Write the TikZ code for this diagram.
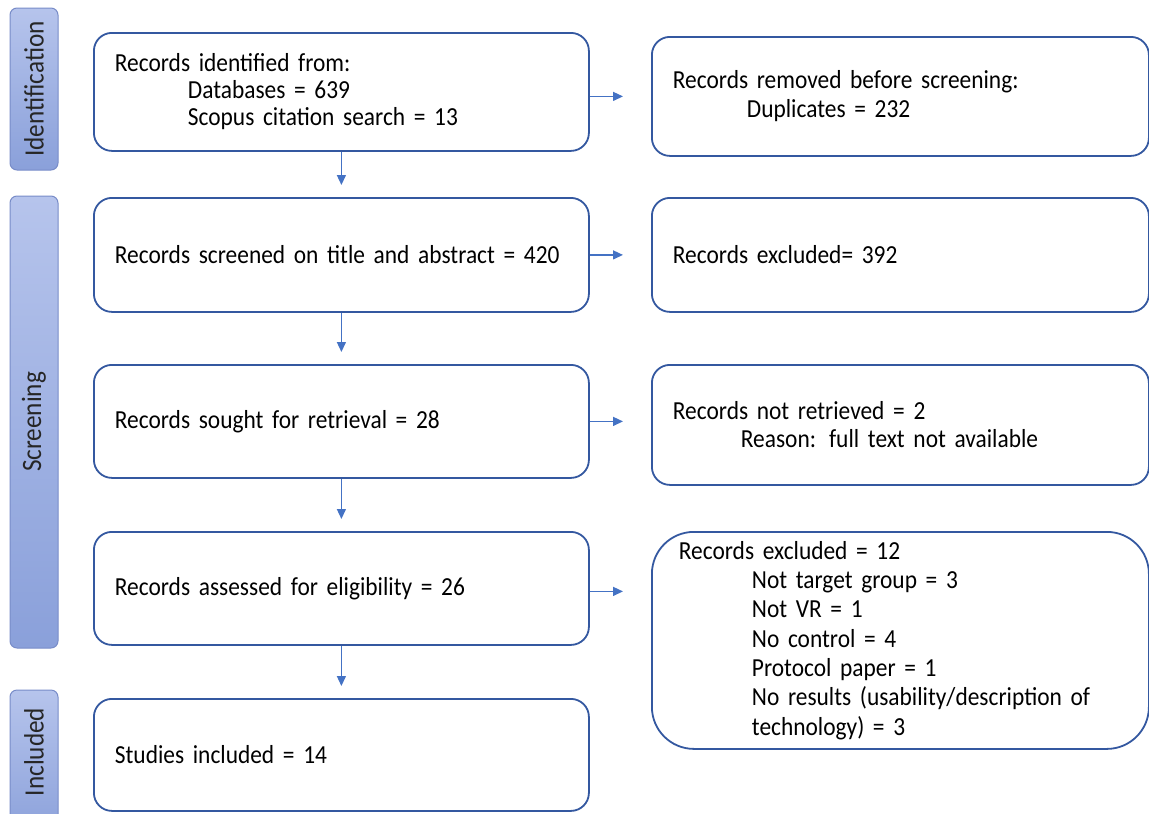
\documentclass[tikz,border=0pt]{standalone}
\usepackage{fontspec}
\setmainfont{Carlito}[FakeStretch=0.9]
\usetikzlibrary{arrows.meta,calc}
\definecolor{boxline}{RGB}{52,88,160}
\definecolor{arrowc}{RGB}{68,114,196}
\definecolor{sidetop}{RGB}{182,196,236}
\definecolor{sidebot}{RGB}{138,160,218}
\definecolor{sideline}{RGB}{120,140,200}
\tikzset{
  box/.style={draw=boxline, line width=1.8pt, rounded corners=18pt, anchor=north west,
    inner xsep=21pt, inner ysep=0pt, align=left, font=\fontsize{26}{27}\selectfont, text=black},
  side/.style={draw=sideline, line width=1pt, rounded corners=7pt, top color=sidetop, bottom color=sidebot,
    minimum width=48pt, inner sep=0pt, text=black!90},
  sidetext/.style={rotate=90, font=\fontsize{28}{30}\selectfont, text=black!85, inner sep=0pt},
  arr/.style={draw=arrowc, line width=1.4pt, -{Triangle[length=10pt,width=9pt]}}
}
\newcommand{\ind}{\hspace*{73pt}}
\begin{document}
\begin{tikzpicture}[x=1pt,y=-1pt]
\useasboundingbox (0,0) rectangle (1149,814);
\clip (0,0) rectangle (1149,814);
% sidebars
\node[side, minimum height=162pt] (sid) at (34,89) {};
\node[sidetext] (tid) at (sid.center) {Identification};
\node[side, minimum height=452pt] (ssc) at (34,422) {};
\node[sidetext] (tsc) at (ssc.center) {Screening};
\node[side, minimum height=150pt] (sin) at (34,765) {};
\node[sidetext] (tin) at (34,752) {Included};
% left column
\node[box, minimum width=495pt, minimum height=118pt, text width=453pt] (b1) at (93,32)
  {Records identified from:\\\ind Databases = 639\\\ind Scopus citation search = 13};
\node[box, minimum width=495pt, minimum height=114pt, text width=453pt] (b2) at (93,197)
  {Records screened on title and abstract = 420};
\node[box, minimum width=495pt, minimum height=113pt, text width=453pt] (b3) at (93,364)
  {Records sought for retrieval = 28};
\node[box, minimum width=495pt, minimum height=113pt, text width=453pt] (b4) at (93,531)
  {Records assessed for eligibility = 26};
\node[box, minimum width=495pt, minimum height=112pt, text width=453pt] (b5) at (93,698)
  {Studies included = 14};
% right column
\node[box, minimum width=497pt, minimum height=119pt, text width=455pt, font=\fontsize{26}{29}\selectfont] (r1) at (651,36)
  {Records removed before screening:\\\hspace*{74pt}Duplicates = 232};
\node[box, minimum width=497pt, minimum height=114pt, text width=455pt] (r2) at (651,197)
  {Records excluded= 392};
\node[box, minimum width=497pt, minimum height=120pt, text width=455pt, font=\fontsize{26}{28}\selectfont] (r3) at (651,364)
  {Records not retrieved = 2\\\hspace*{68pt}Reason: full text not available};
\node[box, rounded corners=42pt, inner xsep=27pt, minimum width=497pt, minimum height=217pt, text width=443pt,
  font=\fontsize{26}{29.3}\selectfont] (r4) at (651,531)
  {Records excluded = 12\\\ind Not target group = 3\\\ind Not VR = 1\\\ind No control = 4\\\ind Protocol paper = 1\\\ind No results (usability/description of\\\ind technology) = 3};
% vertical arrows
\draw[arr, shorten >=12pt] (b1.south) -- (b2.north);
\draw[arr, shorten >=12pt] (b2.south) -- (b3.north);
\draw[arr, shorten >=12pt] (b3.south) -- (b4.north);
\draw[arr, shorten >=12pt] (b4.south) -- (b5.north);
% horizontal arrows
\draw[arr, shorten >=28pt] (b1.east |- r1.west) -- (r1.west);
\draw[arr, shorten >=28pt] (b2.east) -- (b2.east -| r2.west);
\draw[arr, shorten >=28pt] (b3.east) -- (b3.east -| r3.west);
\draw[arr, shorten >=28pt] ($(b4.east)+(0,3)$) -- ($(b4.east -| r4.west)+(0,3)$);
\end{tikzpicture}
\end{document}
